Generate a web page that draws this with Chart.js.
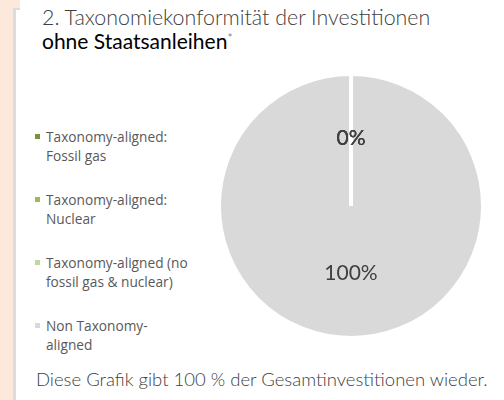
<!DOCTYPE html>
<html><head><meta charset="utf-8">
<script src="https://cdn.jsdelivr.net/npm/chart.js@4/dist/chart.umd.min.js"></script>
<style>
html,body{margin:0;padding:0;width:504px;height:400px;background:#fff;overflow:hidden;font-family:Lato,"Open Sans",sans-serif;}
#peach{position:absolute;left:0;top:0;width:13px;height:400px;background:#fce9dc;}
#peachTop{position:absolute;left:0;top:0;width:20px;height:8px;background:#fce9dc;}
#vline{position:absolute;left:13px;top:8px;width:3px;height:392px;background:#dcdcdc;}
#hline{position:absolute;left:13px;top:8px;width:7px;height:2px;background:#dcdcdc;}
#t1{position:absolute;left:42px;top:7px;font-size:21.4px;line-height:21px;font-weight:300;color:#404040;white-space:nowrap;}
#t2{position:absolute;left:42px;top:27px;font-size:21px;line-height:21px;color:#000;white-space:nowrap;}
#t2 sup{color:#888;font-size:12px;vertical-align:7px;}
#foot{position:absolute;left:36px;top:370px;font-size:18.5px;line-height:18.5px;font-weight:300;color:#404040;white-space:nowrap;}
#legend{position:absolute;left:35px;top:127px;font-family:"Open Sans",sans-serif;font-size:13.7px;color:#595959;}
.li{position:relative;height:63px;padding-left:11px;line-height:19px;}
.sw{position:absolute;left:0;top:7px;width:5px;height:5px;}
#wrap{position:absolute;left:217px;top:72px;width:268px;height:268px;}
</style></head><body>
<div id="peach"></div><div id="peachTop"></div><div id="vline"></div><div id="hline"></div>
<div id="t1">2. Taxonomiekonformität der Investitionen</div>
<div id="t2">ohne Staatsanleihen<sup>*</sup></div>
<div id="legend"></div>
<div id="wrap"><canvas id="c" width="268" height="268"></canvas></div>
<div id="foot">Diese Grafik gibt 100 % der Gesamtinvestitionen wieder.</div>
<script>
const categories = ["Taxonomy-aligned: Fossil gas","Taxonomy-aligned: Nuclear","Taxonomy-aligned (no fossil gas & nuclear)","Non Taxonomy-aligned"];
const legendLines = [["Taxonomy-aligned:","Fossil gas"],["Taxonomy-aligned:","Nuclear"],["Taxonomy-aligned (no","fossil gas & nuclear)"],["Non Taxonomy-","aligned"]];
const values = [0, 0, 0, 100];
const colors = ["#77933c","#9bbb59","#c3d69b","#d9d9d9"];

const lg = document.getElementById('legend');
legendLines.forEach((lines,i)=>{
  const d=document.createElement('div');d.className='li';
  const s=document.createElement('span');s.className='sw';s.style.background=colors[i];
  d.appendChild(s);
  d.appendChild(document.createTextNode(lines[0]));
  d.appendChild(document.createElement('br'));
  d.appendChild(document.createTextNode(lines[1]));
  lg.appendChild(d);
});

const labelPlugin = {
  id:'pctLabels',
  afterDatasetsDraw(chart){
    const ctx=chart.ctx; const meta=chart.getDatasetMeta(0);
    const total=values.reduce((a,b)=>a+b,0);
    ctx.save();
    ctx.font='21px Lato, "Open Sans", sans-serif';
    ctx.fillStyle='#404040';ctx.textAlign='center';ctx.textBaseline='middle';
    meta.data.forEach((arc,i)=>{
      const p=arc.getProps(['x','y','startAngle','endAngle','outerRadius'],true);
      const mid=(p.startAngle+p.endAngle)/2;
      const r=p.outerRadius*0.51;
      ctx.fillText(Math.round(values[i]/total*100)+'%', p.x+Math.cos(mid)*r, p.y+Math.sin(mid)*r);
    });
    ctx.restore();
  }
};

new Chart(document.getElementById('c'),{
  type:'pie',
  data:{labels:categories,datasets:[{data:values,backgroundColor:colors,borderColor:'#ffffff',borderWidth:4,hoverOffset:0}]},
  options:{responsive:false,animation:false,layout:{padding:0},
    plugins:{legend:{display:false},tooltip:{enabled:false}}},
  plugins:[labelPlugin]
});
</script>
</body></html>
